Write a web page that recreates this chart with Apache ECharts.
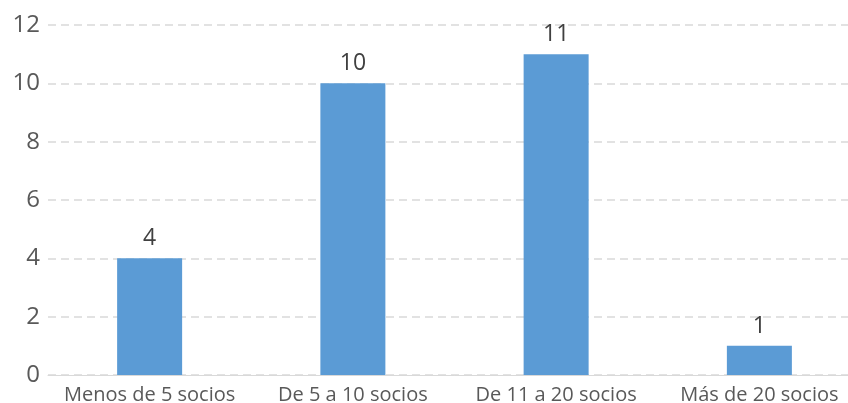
<!DOCTYPE html>
<html>
<head>
<meta charset="utf-8">
<script src="https://cdn.jsdelivr.net/npm/echarts@6/dist/echarts.min.js"></script>
<style>
  html, body { margin: 0; padding: 0; background: #fff; overflow: hidden; }
  /* the original is cropped on the right, so the chart is a bit wider than the window */
  #chart { width: 861px; height: 403px; }
</style>
</head>
<body>
<div id="chart"></div>
<script>
const categories = ['Menos de 5 socios', 'De 5 a 10 socios', 'De 11 a 20 socios', 'Más de 20 socios']
const values = [4, 10, 11, 1]

const chart = echarts.init(document.getElementById('chart'))
chart.setOption({
  animation: false,
  grid: { left: 48, right: 0, top: 25, bottom: 28, outerBoundsMode: 'none' },
  xAxis: {
    type: 'category',
    data: categories,
    axisLine: { lineStyle: { color: '#D9D9D9', width: 1 } },
    axisTick: { show: false },
    axisLabel: { interval: 0, color: '#595959', fontSize: 20, fontFamily: 'Open Sans', margin: 10 }
  },
  yAxis: {
    type: 'value',
    min: 0,
    max: 12,
    interval: 2,
    axisLine: { show: false },
    axisTick: { show: false },
    axisLabel: { color: '#595959', fontSize: 24, fontFamily: 'Open Sans', margin: 8 },
    splitLine: { lineStyle: { color: '#D9D9D9', type: [8, 5], width: 1.5 } }
  },
  series: [{
    type: 'bar',
    data: values,
    barWidth: 65,
    itemStyle: { color: '#5B9BD5' },
    label: {
      show: true,
      position: 'top',
      distance: 8,
      color: '#404040',
      fontSize: 23,
      fontFamily: 'Open Sans'
    }
  }]
})
</script>
</body>
</html>
